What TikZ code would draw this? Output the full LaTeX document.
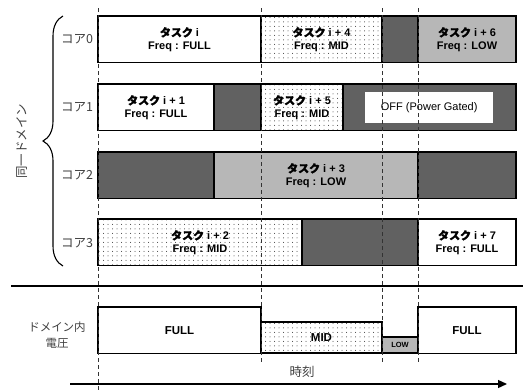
\documentclass[tikz,border=0pt]{standalone}
\usepackage{fontspec}
\setmainfont{Liberation Sans}
\newfontfamily\jp{Noto Sans CJK JP}
\newfontfamily\jpb[FakeBold=1.6]{Noto Sans CJK JP}
\usetikzlibrary{patterns.meta,arrows.meta,decorations.pathreplacing}
\begin{document}
\begin{tikzpicture}[x=1pt,y=-1pt,
  cell/.style={draw, line width=1.3pt, anchor=north west, inner sep=0pt, outer sep=0pt,
    align=center, font=\bfseries\fontsize{11}{12.5}\selectfont, minimum height=46.5pt},
  runbox/.style={cell, fill=white},
  midbox/.style={cell, preaction={fill=white}, pattern={Dots[distance=4.5pt,radius=0.5pt]}, pattern color=black!80},
  lowbox/.style={cell, preaction={fill=black!20}, pattern={Dots[distance=2pt,radius=0.55pt]}, pattern color=black!55},
  idlebox/.style={cell, fill=black!62},
  vline/.style={line width=0.8pt, dash pattern=on 4pt off 3pt, black!80},
  lab/.style={font=\jp\fontsize{12.5}{14}\selectfont, black!75, align=center},
]
\useasboundingbox (0,0) rectangle (523,391);

% core 0
\node[runbox, minimum width=163pt] (c0a) at (98,16) {{\jpb タスク} i\\Freq : FULL};
\node[midbox, minimum width=121pt] (c0b) at (261,16) {{\jpb タスク} i + 4\\Freq : MID};
\node[idlebox, minimum width=36pt] (c0c) at (382,16) {};
\node[lowbox, minimum width=98pt] (c0d) at (418,16) {{\jpb タスク} i + 6\\Freq : LOW};
% core 1
\node[runbox, minimum width=116pt] (c1a) at (98,84) {{\jpb タスク} i + 1\\Freq : FULL};
\node[idlebox, minimum width=47pt] (c1b) at (214,84) {};
\node[midbox, minimum width=82pt] (c1c) at (261,84) {{\jpb タスク} i + 5\\Freq : MID};
\node[idlebox, minimum width=173pt] (c1d) at (343,84) {};
\node[fill=white, anchor=north west, inner sep=0pt, minimum width=128pt, minimum height=31pt,
  font=\fontsize{11}{12}\selectfont] (off) at (365,92) {OFF (Power Gated)};
% core 2
\node[idlebox, minimum width=116pt] (c2a) at (98,152) {};
\node[lowbox, minimum width=204pt] (c2b) at (214,152) {{\jpb タスク} i + 3\\Freq : LOW};
\node[idlebox, minimum width=98pt] (c2c) at (418,152) {};
% core 3
\node[midbox, minimum width=204pt] (c3a) at (98,219) {{\jpb タスク} i + 2\\Freq : MID};
\node[idlebox, minimum width=116pt] (c3b) at (302,219) {};
\node[runbox, minimum width=98pt] (c3c) at (418,219) {{\jpb タスク} i + 7\\Freq : FULL};

% voltage
\node[runbox, minimum width=163pt, font=\bfseries\fontsize{11.5}{12}\selectfont] (v0) at (98,307) {FULL};
\node[midbox, minimum width=121pt, minimum height=31pt, font=\bfseries\fontsize{11.5}{12}\selectfont] (v1) at (261,322) {MID};
\node[lowbox, minimum width=36pt, minimum height=16pt, font=\bfseries\fontsize{7.5}{8}\selectfont] (v2) at (382,337) {LOW};
\node[runbox, minimum width=98pt, font=\bfseries\fontsize{11.5}{12}\selectfont] (v3) at (418,307) {FULL};

% dashed time lines
\coordinate (d0t) at (98,8);   \coordinate (d0b) at (98,391);
\coordinate (d1t) at (261,8);  \coordinate (d1b) at (261,363);
\coordinate (d2t) at (382,8);  \coordinate (d2b) at (382,363);
\coordinate (d3t) at (418,8);  \coordinate (d3b) at (418,363);
\draw[vline] (d0t) -- (d0b);
\draw[vline] (d1t) -- (d1b);
\draw[vline] (d2t) -- (d2b);
\draw[vline] (d3t) -- (d3b);

% core labels
\node[lab] (l0) at (77,39) {コア0};
\node[lab] (l1) at (77,107) {コア1};
\node[lab] (l2) at (77,175) {コア2};
\node[lab] (l3) at (77,243) {コア3};

% brace
\coordinate (bb) at (63,266);
\coordinate (bt) at (63,16);
\draw[line width=1.1pt, decorate, decoration={brace, amplitude=20pt}] (bb) -- (bt);
\node[lab, rotate=90] (dom) at (22,141) {同一ドメイン};

% separator
\coordinate (s0) at (11,286);
\coordinate (s1) at (523,286);
\draw[line width=1.4pt] (s0) -- (s1);

\node[lab, font=\jp\fontsize{11.5}{16}\selectfont] (vl) at (57,335) {ドメイン内\\電圧};

% time arrow
\coordinate (a0) at (70,384);
\coordinate (a1) at (507,384);
\draw[line width=1.3pt, -{Triangle[length=9pt,width=8pt]}] (a0) -- (a1);
\node[lab] (tl) at (302,372) {時刻};
\end{tikzpicture}
\end{document}
